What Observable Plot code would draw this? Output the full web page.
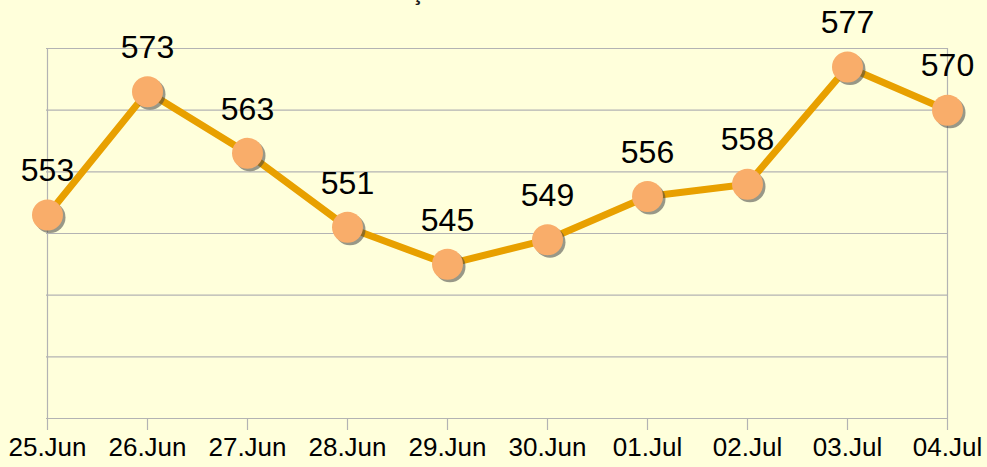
<!DOCTYPE html>
<html>
<head>
<meta charset="utf-8">
<script src="https://cdn.jsdelivr.net/npm/d3@7"></script>
<script src="https://cdn.jsdelivr.net/npm/@observablehq/plot@0.6"></script>
<style>
  html, body { margin: 0; padding: 0; background: #FFFFDB; overflow: hidden; }
  #wrap { position: relative; width: 987px; height: 467px; }
  #title { position: absolute; left: 0; width: 1010px; top: -20px; text-align: center;
           font: bold 22px "Liberation Sans", Arial, sans-serif; color: #222; }
  #chart { position: absolute; left: 0; top: 0; }
</style>
</head>
<body>
<div id="wrap">
  <div id="title">Internações dos últimos 10 dias</div>
  <div id="chart"></div>
</div>
<script>
const dates = ["25.Jun", "26.Jun", "27.Jun", "28.Jun", "29.Jun", "30.Jun", "01.Jul", "02.Jul", "03.Jul", "04.Jul"];
const values = [553, 573, 563, 551, 545, 549, 556, 558, 577, 570];
const gridTicks = [520, 530, 540, 550, 560, 570, 580];

const data = dates.map((d, i) => ({date: d, value: values[i]}));

const font = '"Liberation Sans", Arial, sans-serif';

const chart = Plot.plot({
  width: 987,
  height: 467,
  marginLeft: 46,
  marginRight: 39,
  marginTop: 48,
  marginBottom: 49,
  style: {background: "transparent", fontFamily: font},
  x: {type: "point", domain: dates, padding: 0, label: null},
  y: {domain: [520, 580], label: null, axis: null},
  marks: [
    Plot.ruleY(gridTicks, {stroke: "#B3B3B3", strokeWidth: 1.2}),
    Plot.ruleX([dates[0], dates[dates.length - 1]], {stroke: "#B3B3B3", strokeWidth: 1.2, y1: 520, y2: 580}),
    Plot.axisX({tickSize: 12, tickPadding: 7, stroke: "#B3B3B3", strokeWidth: 1.2,
                fontSize: 26, fill: "#000", label: null, textStroke: "none", color: "#000"}),
    Plot.line(data, {x: "date", y: "value", stroke: "#E8A000", strokeWidth: 7, strokeLinejoin: "round"}),
    Plot.dot(data, {x: "date", y: "value", r: 15.5, fill: "#444", fillOpacity: 0.55, dx: 2.5, dy: 2.5, stroke: "none"}),
    Plot.dot(data, {x: "date", y: "value", r: 15.5, fill: "#F9AD6A", stroke: "none"}),
    Plot.text(data, {x: "date", y: "value", text: d => String(d.value), dy: -44,
                     fontSize: 32, fill: "#000", fontFamily: font})
  ]
});
document.getElementById("chart").appendChild(chart);
</script>
</body>
</html>
